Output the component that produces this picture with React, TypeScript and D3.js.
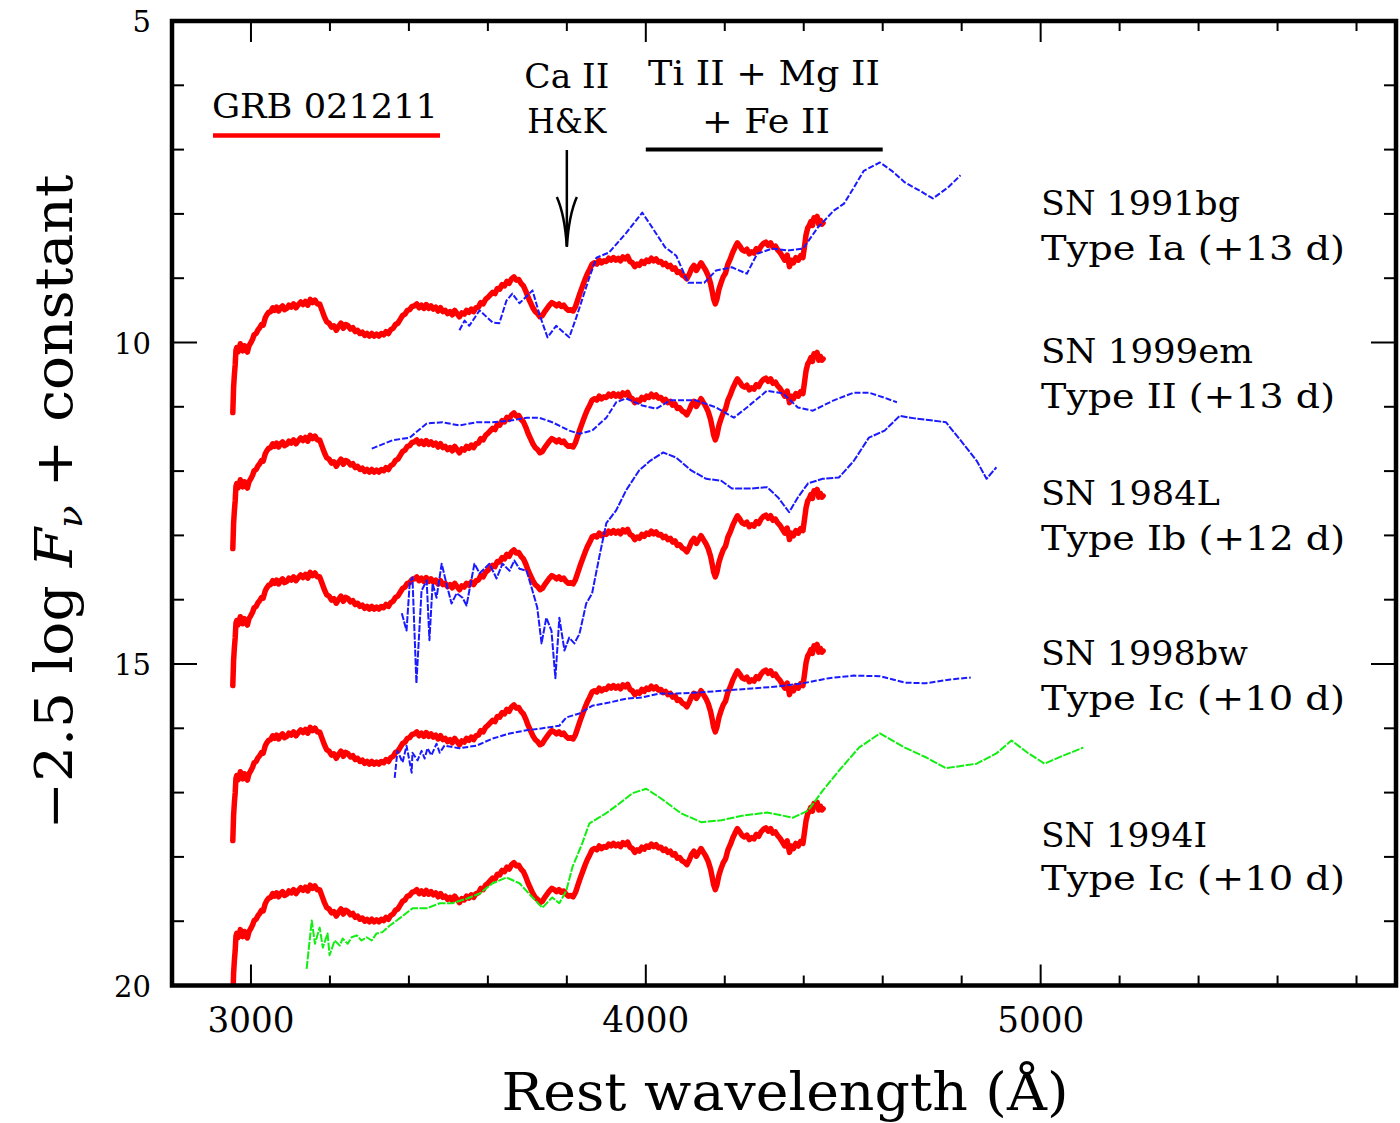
import React from 'react';
import * as d3 from 'd3';

type P = [number, number];

// GRB 021211 spectrum template (rest wavelength Å, -2.5 log Fν + const), top copy
const grb021211: P[] = [
  [2954, 11.09], [2956, 10.7], [2958, 10.5], [2960, 10.35], [2962, 10.12], [2964, 10.08], [2967, 10.15],
  [2970, 10.10], [2973, 10.02], [2976, 10.06], [2979, 10.13], [2983, 10.05], [2987, 10.10], [2991, 10.15],
  [2995, 10.05], [2999, 10.01], [3004, 9.95], [3008, 9.88], [3013, 9.86], [3018, 9.80], [3022, 9.77],
  [3027, 9.72], [3031, 9.73], [3036, 9.62], [3040, 9.57], [3045, 9.53], [3050, 9.52], [3055, 9.46],
  [3060, 9.50], [3065, 9.45], [3070, 9.51], [3075, 9.46], [3080, 9.43], [3085, 9.49], [3091, 9.47],
  [3096, 9.42], [3102, 9.45], [3108, 9.40], [3114, 9.46], [3120, 9.41], [3126, 9.37], [3132, 9.41],
  [3138, 9.36], [3144, 9.42], [3150, 9.33], [3156, 9.38], [3162, 9.34], [3168, 9.40], [3174, 9.40],
  [3180, 9.50], [3186, 9.60], [3192, 9.68], [3198, 9.70], [3204, 9.76], [3210, 9.74], [3216, 9.81],
  [3222, 9.75], [3228, 9.70], [3234, 9.78], [3240, 9.72], [3246, 9.74], [3252, 9.79], [3258, 9.77],
  [3264, 9.83], [3270, 9.81], [3276, 9.86], [3282, 9.84], [3288, 9.89], [3294, 9.86], [3300, 9.90],
  [3306, 9.86], [3312, 9.90], [3318, 9.87], [3324, 9.90], [3330, 9.86], [3336, 9.88], [3342, 9.83],
  [3348, 9.86], [3354, 9.80], [3360, 9.78], [3366, 9.72], [3372, 9.70], [3378, 9.64], [3384, 9.58],
  [3390, 9.56], [3396, 9.50], [3402, 9.49], [3408, 9.44], [3414, 9.43], [3420, 9.40], [3426, 9.46],
  [3432, 9.42], [3438, 9.47], [3444, 9.41], [3450, 9.47], [3456, 9.43], [3462, 9.48], [3468, 9.45],
  [3474, 9.51], [3480, 9.46], [3486, 9.52], [3492, 9.50], [3498, 9.55], [3504, 9.52], [3510, 9.57],
  [3516, 9.50], [3522, 9.55], [3528, 9.60], [3534, 9.54], [3540, 9.56], [3546, 9.50], [3552, 9.53],
  [3558, 9.48], [3564, 9.52], [3570, 9.46], [3576, 9.45], [3582, 9.38], [3588, 9.40], [3594, 9.33],
  [3600, 9.30], [3606, 9.26], [3612, 9.22], [3618, 9.24], [3624, 9.16], [3630, 9.17], [3636, 9.10],
  [3642, 9.12], [3648, 9.05], [3654, 9.08], [3660, 9.01], [3666, 8.98], [3672, 9.03], [3678, 9.02],
  [3684, 9.08], [3690, 9.12], [3696, 9.20], [3702, 9.30], [3708, 9.38], [3714, 9.46], [3720, 9.52],
  [3726, 9.55], [3732, 9.60], [3738, 9.58], [3744, 9.52], [3750, 9.47], [3756, 9.42], [3762, 9.38],
  [3768, 9.40], [3774, 9.43], [3780, 9.40], [3786, 9.44], [3792, 9.42], [3798, 9.47], [3804, 9.50],
  [3810, 9.49], [3816, 9.51], [3822, 9.44], [3828, 9.33], [3834, 9.22], [3840, 9.12], [3846, 9.02],
  [3852, 8.93], [3858, 8.86], [3864, 8.78], [3870, 8.76], [3876, 8.78], [3882, 8.72], [3888, 8.76],
  [3894, 8.73], [3900, 8.74], [3906, 8.69], [3912, 8.72], [3918, 8.68], [3924, 8.72], [3930, 8.69],
  [3936, 8.73], [3942, 8.67], [3948, 8.70], [3954, 8.66], [3960, 8.74], [3966, 8.76], [3972, 8.82],
  [3978, 8.78], [3984, 8.80], [3990, 8.74], [3996, 8.77], [4002, 8.72], [4008, 8.74], [4014, 8.69],
  [4020, 8.73], [4026, 8.70], [4032, 8.75], [4038, 8.74], [4044, 8.79], [4050, 8.77], [4056, 8.82],
  [4062, 8.80], [4068, 8.86], [4074, 8.84], [4080, 8.91], [4086, 8.90], [4092, 8.95], [4098, 8.97],
  [4104, 9.01], [4110, 8.94], [4116, 8.85], [4122, 8.80], [4128, 8.88], [4134, 8.82], [4140, 8.76],
  [4146, 8.82], [4152, 8.88], [4158, 8.96], [4164, 9.08], [4168, 9.20], [4172, 9.33], [4176, 9.40],
  [4180, 9.33], [4185, 9.18], [4190, 9.08], [4196, 8.98], [4202, 8.92], [4208, 8.78], [4214, 8.70],
  [4220, 8.60], [4226, 8.52], [4232, 8.45], [4238, 8.50], [4244, 8.56], [4250, 8.58], [4256, 8.55],
  [4262, 8.62], [4268, 8.59], [4274, 8.61], [4280, 8.54], [4286, 8.57], [4292, 8.50], [4298, 8.46],
  [4304, 8.44], [4310, 8.49], [4316, 8.45], [4322, 8.52], [4328, 8.50], [4334, 8.56], [4340, 8.60],
  [4346, 8.66], [4352, 8.72], [4358, 8.64], [4364, 8.82], [4368, 8.72], [4374, 8.76], [4380, 8.68],
  [4386, 8.72], [4392, 8.65], [4398, 8.68], [4402, 8.50], [4406, 8.32], [4410, 8.22], [4414, 8.18],
  [4418, 8.12], [4422, 8.18], [4426, 8.06], [4430, 8.10], [4434, 8.04], [4438, 8.16], [4442, 8.10],
  [4446, 8.16], [4449, 8.14],
];

// vertical offsets of each GRB copy (mag)
const grbOffsets = [0, 2.115, 4.245, 6.656, 9.11];

const sn1991bg: P[] = [
  [3528, 9.81], [3541, 9.66], [3553, 9.74], [3579, 9.50], [3612, 9.69], [3629, 9.70], [3647, 9.35],
  [3662, 9.24], [3680, 9.39], [3713, 9.19], [3730, 9.55], [3751, 9.92], [3773, 9.74], [3806, 9.92],
  [3824, 9.61], [3857, 8.99], [3875, 8.68], [3907, 8.60], [3950, 8.30], [3991, 7.98], [4016, 8.21],
  [4049, 8.52], [4077, 8.65], [4107, 9.07], [4148, 9.07], [4178, 8.88], [4218, 8.83], [4256, 8.93],
  [4282, 8.62], [4320, 8.54], [4360, 8.57], [4398, 8.54], [4436, 8.21], [4476, 7.95], [4502, 7.84],
  [4527, 7.59], [4552, 7.33], [4593, 7.20], [4623, 7.33], [4656, 7.51], [4694, 7.64], [4727, 7.76],
  [4765, 7.59], [4797, 7.40],
];

const sn1999em: P[] = [
  [3306, 11.65], [3359, 11.52], [3402, 11.48], [3445, 11.26], [3485, 11.24], [3528, 11.29], [3571, 11.24],
  [3612, 11.24], [3662, 11.21], [3698, 11.17], [3730, 11.17], [3763, 11.24], [3806, 11.37], [3832, 11.42],
  [3864, 11.37], [3900, 11.17], [3925, 10.93], [3950, 10.87], [3991, 10.98], [4026, 11.03], [4062, 10.90],
  [4127, 10.90], [4178, 11.01], [4223, 11.17], [4256, 11.01], [4307, 10.75], [4347, 10.79], [4385, 11.01],
  [4423, 11.06], [4476, 10.90], [4527, 10.78], [4565, 10.78], [4605, 10.86], [4636, 10.93],
];

const sn1984L: P[] = [
  [3382, 14.21], [3394, 14.48], [3402, 13.75], [3409, 13.65], [3419, 15.30], [3432, 13.86], [3445, 13.70],
  [3452, 14.63], [3460, 13.75], [3470, 13.97], [3483, 13.44], [3495, 13.75], [3508, 14.06], [3521, 13.90],
  [3536, 13.97], [3546, 14.09], [3553, 13.86], [3566, 13.44], [3579, 13.59], [3604, 13.44], [3622, 13.67],
  [3637, 13.44], [3655, 13.55], [3667, 13.39], [3680, 13.52], [3698, 13.55], [3713, 13.86], [3725, 14.12],
  [3736, 14.68], [3748, 14.28], [3761, 14.48], [3771, 15.22], [3781, 14.28], [3794, 14.79], [3806, 14.59],
  [3819, 14.68], [3832, 14.53], [3849, 14.06], [3864, 13.90], [3882, 13.34], [3900, 12.81], [3925, 12.61],
  [3950, 12.30], [3983, 11.99], [4011, 11.84], [4044, 11.71], [4077, 11.79], [4115, 11.99], [4153, 12.12],
  [4191, 12.15], [4218, 12.27], [4269, 12.27], [4307, 12.25], [4335, 12.41], [4363, 12.64], [4385, 12.41],
  [4411, 12.19], [4448, 12.12], [4489, 12.10], [4527, 11.84], [4565, 11.48], [4605, 11.37], [4643, 11.14],
  [4681, 11.18], [4722, 11.21], [4760, 11.24], [4797, 11.52], [4838, 11.84], [4863, 12.12], [4888, 11.94],
];

const sn1998bw: P[] = [
  [3364, 16.77], [3371, 16.35], [3384, 16.53], [3394, 16.27], [3407, 16.69], [3409, 16.38], [3422, 16.50],
  [3432, 16.35], [3440, 16.47], [3447, 16.31], [3457, 16.42], [3470, 16.24], [3478, 16.38], [3490, 16.27],
  [3528, 16.31], [3571, 16.27], [3612, 16.16], [3655, 16.08], [3698, 16.03], [3738, 16.00], [3781, 15.96],
  [3799, 15.83], [3832, 15.77], [3864, 15.65], [3907, 15.60], [3950, 15.54], [3991, 15.52], [4034, 15.46],
  [4077, 15.46], [4140, 15.44], [4206, 15.41], [4269, 15.38], [4335, 15.35], [4398, 15.30], [4464, 15.22],
  [4527, 15.18], [4593, 15.19], [4656, 15.29], [4709, 15.30], [4772, 15.24], [4823, 15.21],
];

const sn1994I: P[] = [
  [3141, 19.74], [3154, 18.99], [3162, 19.35], [3174, 19.10], [3182, 19.41], [3194, 19.19], [3199, 19.53],
  [3212, 19.30], [3225, 19.38], [3232, 19.27], [3245, 19.35], [3255, 19.25], [3268, 19.22], [3280, 19.30],
  [3293, 19.25], [3306, 19.30], [3318, 19.19], [3333, 19.17], [3351, 19.07], [3369, 18.99], [3409, 18.80],
  [3445, 18.80], [3478, 18.72], [3510, 18.72], [3546, 18.65], [3579, 18.57], [3612, 18.41], [3647, 18.32],
  [3680, 18.41], [3713, 18.63], [3738, 18.79], [3763, 18.63], [3781, 18.72], [3799, 18.52], [3814, 18.16],
  [3839, 17.79], [3857, 17.48], [3900, 17.32], [3933, 17.17], [3966, 17.01], [4001, 16.94], [4036, 17.08],
  [4089, 17.32], [4140, 17.46], [4191, 17.43], [4244, 17.36], [4307, 17.31], [4373, 17.39], [4411, 17.28],
  [4448, 16.97], [4489, 16.66], [4540, 16.30], [4593, 16.08], [4656, 16.30], [4709, 16.45], [4760, 16.62],
  [4838, 16.55], [4888, 16.39], [4926, 16.19], [4967, 16.38], [5010, 16.55], [5055, 16.43], [5108, 16.30],
];

const snNames = ['SN 1991bg', 'SN 1999em', 'SN 1984L', 'SN 1998bw', 'SN 1994I'];
const snTypes = ['Type Ia (+13 d)', 'Type II (+13 d)', 'Type Ib (+12 d)', 'Type Ic (+10 d)', 'Type Ic (+10 d)'];
const xMajorTicks = [3000, 4000, 5000];
const xMinorTicks = [3200, 3400, 3600, 3800, 4200, 4400, 4600, 4800, 5200, 5400, 5600, 5800];
const yMajorTicks = [5, 10, 15, 20];
const yMinorTicks = [6, 7, 8, 9, 11, 12, 13, 14, 16, 17, 18, 19];

const X0 = 172, X1 = 1396, Y0 = 21, Y1 = 985.5;
const FONT = "'DejaVu Serif', 'Liberation Serif', serif";

export default function App() {
  const x = d3.scaleLinear().domain([2800, 5900]).range([X0, X1]);
  const y = d3.scaleLinear().domain([5, 20]).range([Y0, Y1]);
  const line = d3.line<P>().x(d => x(d[0])).y(d => y(d[1]));

  const comps: { data: P[]; color: string; dash: string }[] = [
    { data: sn1991bg, color: '#1a1aff', dash: '6 2' },
    { data: sn1999em, color: '#1a1aff', dash: '6 2' },
    { data: sn1984L, color: '#1a1aff', dash: '7 1.5' },
    { data: sn1998bw, color: '#1a1aff', dash: '6 2' },
    { data: sn1994I, color: '#11ee11', dash: '8 1.5' },
  ];

  // layout: baselines for label pairs
  const nameBase = [215, 363, 505, 665, 847];
  const typeBase = [260, 408, 550, 710, 890];
  const nameLen = [199, 212, 179, 207, 166];
  const typeLen = [304, 294, 304, 304, 304];

  const xArrow = x(3800);

  return (
    <svg width={1400} height={1123} style={{ position: 'absolute', left: 0, top: 0, background: '#fff' }}
      fontFamily={FONT}>
      <defs>
        <clipPath id="plotclip">
          <rect x={X0} y={Y0} width={X1 - X0} height={Y1 - Y0} />
        </clipPath>
      </defs>
      <rect x={0} y={0} width={1400} height={1123} fill="#fff" />
      <g clipPath="url(#plotclip)">
        {grbOffsets.map((off, i) => (
          <path key={'r' + i} d={line(grb021211.map(p => [p[0], p[1] + off] as P)) || ''}
            fill="none" stroke="#ff0000" strokeWidth={5.5} strokeLinejoin="round" strokeLinecap="round" />
        ))}
        {comps.map((c, i) => (
          <path key={'c' + i} d={line(c.data) || ''} fill="none" stroke={c.color} strokeWidth={2}
            strokeDasharray={c.dash} strokeLinejoin="round" />
        ))}
      </g>

      {/* frame */}
      <rect x={X0} y={Y0} width={X1 - X0} height={Y1 - Y0} fill="none" stroke="#000" strokeWidth={4.5} />

      {/* x ticks */}
      {xMajorTicks.map(t => (
        <g key={'xm' + t}>
          <line x1={x(t)} x2={x(t)} y1={Y1} y2={Y1 - 21} stroke="#000" strokeWidth={2} />
          <line x1={x(t)} x2={x(t)} y1={Y0} y2={Y0 + 21} stroke="#000" strokeWidth={2} />
          <text x={x(t)} y={1032} textAnchor="middle" fontSize={35} textLength={87} lengthAdjust="spacingAndGlyphs">{t}</text>
        </g>
      ))}
      {xMinorTicks.map(t => (
        <g key={'xn' + t}>
          <line x1={x(t)} x2={x(t)} y1={Y1} y2={Y1 - 10} stroke="#000" strokeWidth={2} />
          <line x1={x(t)} x2={x(t)} y1={Y0} y2={Y0 + 10} stroke="#000" strokeWidth={2} />
        </g>
      ))}
      {/* y ticks */}
      {yMajorTicks.map(t => (
        <g key={'ym' + t}>
          <line x1={X0} x2={X0 + 25} y1={y(t)} y2={y(t)} stroke="#000" strokeWidth={2} />
          <line x1={X1} x2={X1 - 25} y1={y(t)} y2={y(t)} stroke="#000" strokeWidth={2} />
          <text x={151} y={y(t) + 11} textAnchor="end" fontSize={29}>{t}</text>
        </g>
      ))}
      {yMinorTicks.map(t => (
        <g key={'yn' + t}>
          <line x1={X0} x2={X0 + 12} y1={y(t)} y2={y(t)} stroke="#000" strokeWidth={2} />
          <line x1={X1} x2={X1 - 12} y1={y(t)} y2={y(t)} stroke="#000" strokeWidth={2} />
        </g>
      ))}

      {/* axis titles */}
      <text x={785} y={1110} textAnchor="middle" fontSize={52} textLength={567} lengthAdjust="spacingAndGlyphs">
        Rest wavelength (Å)
      </text>
      <text transform="translate(72,502) rotate(-90)" textAnchor="middle" fontSize={52} textLength={655}
        lengthAdjust="spacingAndGlyphs">
        −2.5 log <tspan fontStyle="italic">F</tspan><tspan fontStyle="italic" fontSize={34} dy={10}>ν</tspan>
        <tspan dy={-10}> + constant</tspan>
      </text>

      {/* GRB label */}
      <text x={212} y={118} fontSize={34} textLength={226} lengthAdjust="spacingAndGlyphs">GRB 021211</text>
      <line x1={213} x2={440} y1={135.5} y2={135.5} stroke="#ff0000" strokeWidth={4.5} />

      {/* Ca II H&K */}
      <text x={xArrow} y={88} textAnchor="middle" fontSize={34} textLength={85} lengthAdjust="spacingAndGlyphs">Ca II</text>
      <text x={xArrow} y={133} textAnchor="middle" fontSize={34} textLength={79} lengthAdjust="spacingAndGlyphs">H&amp;K</text>
      <line x1={xArrow} x2={xArrow} y1={150} y2={246} stroke="#000" strokeWidth={2.5} />
      <path d={`M${xArrow - 10},197 Q${xArrow - 2},215 ${xArrow},247 Q${xArrow + 2},215 ${xArrow + 10},197`}
        fill="none" stroke="#000" strokeWidth={2.5} />

      {/* Ti II + Mg II + Fe II */}
      <text x={764} y={85} textAnchor="middle" fontSize={34} textLength={232} lengthAdjust="spacingAndGlyphs">Ti II + Mg II</text>
      <text x={766} y={133} textAnchor="middle" fontSize={34} textLength={128} lengthAdjust="spacingAndGlyphs">+ Fe II</text>
      <line x1={x(4000)} x2={x(4600)} y1={149.5} y2={149.5} stroke="#000" strokeWidth={4} />

      {/* SN labels */}
      {snNames.map((n, i) => (
        <g key={'lab' + i}>
          <text x={1041} y={nameBase[i]} fontSize={34} textLength={nameLen[i]} lengthAdjust="spacingAndGlyphs">{n}</text>
          <text x={1041} y={typeBase[i]} fontSize={34} textLength={typeLen[i]} lengthAdjust="spacingAndGlyphs">{snTypes[i]}</text>
        </g>
      ))}
    </svg>
  );
}
